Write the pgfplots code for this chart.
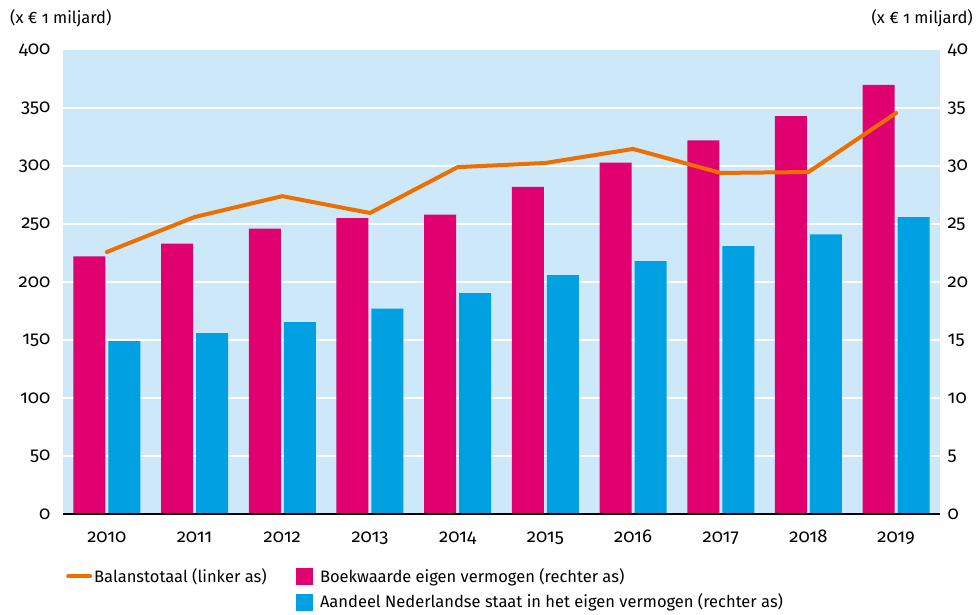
\documentclass[border=0pt]{standalone}
\usepackage{fontspec}
\setmainfont[Numbers=OldStyle]{Fira Sans}
\usepackage{pgfplots}
\pgfplotsset{compat=1.18}
\definecolor{bgblue}{RGB}{205,232,249}
\definecolor{mag}{RGB}{224,0,112}
\definecolor{cya}{RGB}{0,160,226}
\definecolor{ora}{RGB}{236,111,0}
\begin{document}
\fontsize{16.5pt}{19pt}\selectfont
\begin{tikzpicture}
\pgfplotsset{
  common/.style={
    scale only axis, width=877pt, height=464pt,
    xmin=-0.5, xmax=9.5, ymin=0,
    major tick length=0pt,
    tick label style={font=\fontsize{18.5pt}{20pt}\selectfont},
    /pgf/number format/assume math mode=true,
    /pgf/number format/1000 sep={},
  }
}
% bars on the right axis
\begin{axis}[common, name=bx,
  ymax=40, ytick={0,5,...,40},
  axis y line*=right, y axis line style={draw=none},
  hide x axis,
  axis background/.style={fill=bgblue},
  extra y ticks={5,10,...,35}, extra y tick labels={},
  extra y tick style={grid=major},
  major grid style={white, line width=1.8pt},
  yticklabel style={xshift=2pt},
]
\addplot[ybar, bar width=32pt, bar shift=-17.5pt, fill=mag, draw=none] coordinates {
(0,22.2) (1,23.3) (2,24.6) (3,25.5) (4,25.8) (5,28.2) (6,30.3) (7,32.2) (8,34.3) (9,37.0)};
\addplot[ybar, bar width=32pt, bar shift=17.5pt, fill=cya, draw=none] coordinates {
(0,14.9) (1,15.6) (2,16.55) (3,17.7) (4,19.05) (5,20.6) (6,21.8) (7,23.1) (8,24.1) (9,25.6)};
\end{axis}
% line on the left axis
\begin{axis}[common, name=ax,
  ymax=400, ytick={0,50,...,400},
  axis y line*=left, y axis line style={draw=none},
  axis x line*=bottom, x axis line style={-, black, line width=2pt},
  xtick=data, xticklabels={2010,2011,2012,2013,2014,2015,2016,2017,2018,2019},
  xticklabel style={anchor=north, text height=12pt, text depth=4pt, yshift=-11pt},
  yticklabel style={xshift=-7pt},
  legend style={at={(rel axis cs:0,0)}, anchor=north west, yshift=-50pt,
    draw=none, fill=none, font=\fontsize{16.5pt}{19pt}\selectfont,
    legend cell align=left, row sep=5pt,
    /tikz/every even column/.append style={column sep=27pt}},
  legend columns=2,
]
\addplot[ora, line width=4pt, line cap=round, line join=round,
  legend image code/.code={\draw[ora,line width=4pt,line cap=round] (0pt,0pt)--(22pt,0pt);}]
  coordinates {(0,225.9) (1,256) (2,274) (3,259.5) (4,299) (5,302.6) (6,314.7) (7,294) (8,294.8) (9,345.7)};
\addlegendentry{Balanstotaal (linker as)}
\addlegendimage{legend image code/.code={\fill[mag] (0pt,-8pt) rectangle (16pt,8pt); \path (22pt,0pt);}}
\addlegendentry{Boekwaarde eigen vermogen (rechter as)}
\addlegendimage{legend image code/.code={}}
\addlegendentry{}
\addlegendimage{legend image code/.code={\fill[cya] (0pt,-8pt) rectangle (16pt,8pt); \path (22pt,0pt);}}
\addlegendentry{Aandeel Nederlandse staat in het eigen vermogen (rechter as)}
\end{axis}
\node[anchor=west, inner sep=0pt] at ([xshift=-53pt,yshift=32pt]ax.north west) {(x € 1 miljard)};
\node[anchor=east, inner sep=0pt] at ([xshift=33pt,yshift=32pt]ax.north east) {(x € 1 miljard)};
\path[use as bounding box] ([xshift=-63pt,yshift=-97pt]ax.south west) rectangle ([xshift=36pt,yshift=50pt]ax.north east);
\end{tikzpicture}
\end{document}
